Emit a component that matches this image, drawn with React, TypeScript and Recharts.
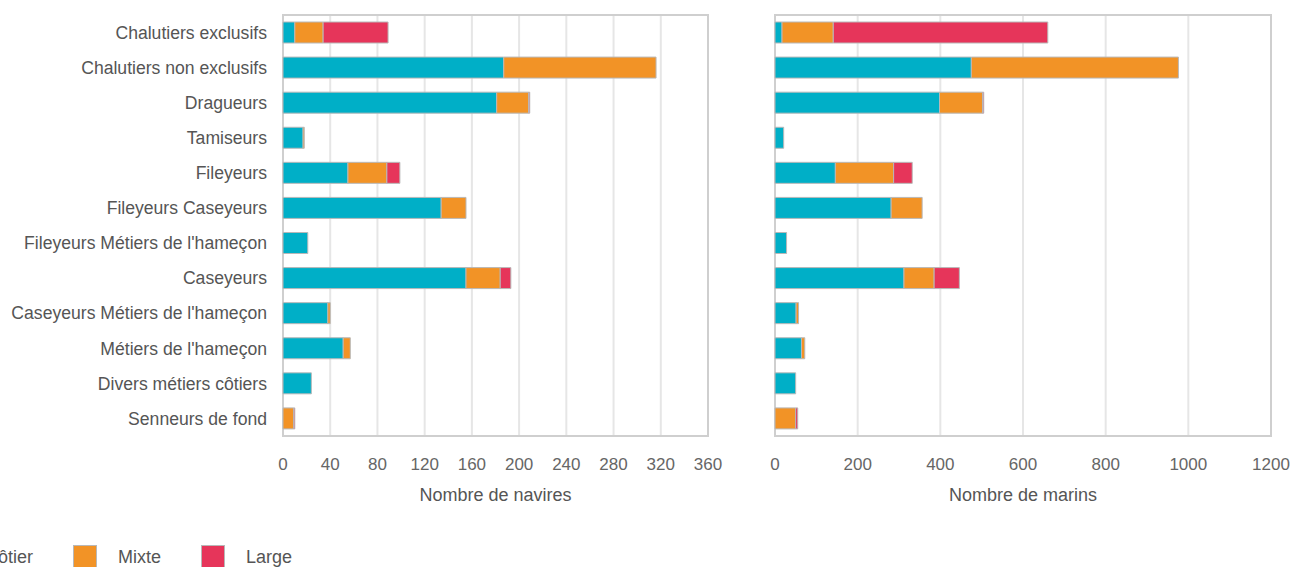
import {
  BarChart,
  Bar,
  XAxis,
  YAxis,
  CartesianGrid,
  ReferenceArea,
} from "recharts";

const categories = [
  "Chalutiers exclusifs",
  "Chalutiers non exclusifs",
  "Dragueurs",
  "Tamiseurs",
  "Fileyeurs",
  "Fileyeurs Caseyeurs",
  "Fileyeurs Métiers de l'hameçon",
  "Caseyeurs",
  "Caseyeurs Métiers de l'hameçon",
  "Métiers de l'hameçon",
  "Divers métiers côtiers",
  "Senneurs de fond",
];

// Nombre de navires
const naviresCotier = [10, 187, 181, 17, 55, 134, 21, 155, 38, 51, 24, 0];
const naviresMixte = [24, 129, 27, 1, 33, 21, 0, 29, 2, 6, 0, 9];
const naviresLarge = [55, 0, 1, 0, 11, 0, 0, 9, 0, 0, 0, 1];

// Nombre de marins
const marinsCotier = [17, 475, 398, 21, 146, 281, 28, 312, 51, 64, 50, 0];
const marinsMixte = [124, 501, 104, 0, 141, 75, 0, 73, 6, 8, 0, 50];
const marinsLarge = [519, 0, 3, 0, 45, 0, 0, 61, 0, 0, 0, 5];

const naviresTicks = [0, 40, 80, 120, 160, 200, 240, 280, 320, 360];
const marinsTicks = [0, 200, 400, 600, 800, 1000, 1200];

const series = [
  { key: "cotier", label: "Côtier", color: "#00afc7" },
  { key: "mixte", label: "Mixte", color: "#f29326" },
  { key: "large", label: "Large", color: "#e6355a" },
];

const naviresData = categories.map((name, i) => ({
  name,
  cotier: naviresCotier[i],
  mixte: naviresMixte[i],
  large: naviresLarge[i],
}));

const marinsData = categories.map((name, i) => ({
  name,
  cotier: marinsCotier[i],
  mixte: marinsMixte[i],
  large: marinsLarge[i],
}));

const FONT = "'Liberation Sans', Arial, sans-serif";
const tickStyle = { fontSize: 17, fill: "#666", fontFamily: FONT };

function Panel({
  data,
  ticks,
  title,
  showCategories,
  width,
  margin,
}: {
  data: typeof naviresData;
  ticks: number[];
  title: string;
  showCategories: boolean;
  width: number;
  margin: { top: number; right: number; left: number; bottom: number };
}) {
  const max = ticks[ticks.length - 1];
  return (
    <BarChart
      width={width}
      height={520}
      data={data}
      layout="vertical"
      margin={margin}
      barSize={21}
      style={{ overflow: "visible" }}
    >
      <CartesianGrid vertical horizontal={false} stroke="#e6e6e6" strokeWidth={2} />
      <XAxis
        type="number"
        domain={[0, max]}
        ticks={ticks}
        interval={0}
        axisLine={false}
        tickLine={false}
        tickSize={0}
        tickMargin={22}
        tick={tickStyle}
        height={70}
        label={{
          value: title,
          position: "insideBottom",
          offset: 5,
          fill: "#555",
          fontSize: 18,
          fontFamily: FONT,
        }}
      />
      <YAxis
        type="category"
        dataKey="name"
        hide={!showCategories}
        width={showCategories ? 283 : 0}
        axisLine={false}
        tickLine={false}
        tickSize={0}
        tickMargin={16}
        interval={0}
        tick={{ fontSize: 17.6, fill: "#555", fontFamily: FONT }}
      />
      {series.map((s) => (
        <Bar
          key={s.key}
          dataKey={s.key}
          name={s.label}
          stackId="a"
          fill={s.color}
          stroke="#b8b8b8"
          strokeWidth={1}
          isAnimationActive={false}
        />
      ))}
      <ReferenceArea
        x1={0}
        x2={max}
        fill="none"
        stroke="#cfcfcf"
        strokeWidth={2}
        fillOpacity={0}
      />
    </BarChart>
  );
}

export default function App() {
  return (
    <div
      style={{
        position: "absolute",
        left: 0,
        top: 0,
        width: 1292,
        height: 567,
        overflow: "hidden",
        background: "#fff",
        fontFamily: FONT,
      }}
    >
      <div style={{ position: "absolute", left: 0, top: 0 }}>
        <Panel
          data={naviresData}
          ticks={naviresTicks}
          title="Nombre de navires"
          showCategories
          width={740}
          margin={{ top: 15, right: 32, left: 0, bottom: 14 }}
        />
      </div>
      <div style={{ position: "absolute", left: 720, top: 0 }}>
        <Panel
          data={marinsData}
          ticks={marinsTicks}
          title="Nombre de marins"
          showCategories={false}
          width={572}
          margin={{ top: 15, right: 21, left: 55, bottom: 14 }}
        />
      </div>
      <div
        style={{
          position: "absolute",
          left: -60,
          top: 545,
          height: 24,
          display: "flex",
          alignItems: "center",
          fontSize: 18,
          color: "#555",
          whiteSpace: "nowrap",
        }}
      >
        {series.map((s) => (
          <div key={s.key} style={{ display: "flex", alignItems: "center", marginRight: 40 }}>
            <span
              style={{
                display: "inline-block",
                width: 24,
                height: 24,
                background: s.color,
                boxSizing: "border-box",
                border: "1px solid #b8b8b8",
                marginRight: 21,
              }}
            />
            <span>{s.label}</span>
          </div>
        ))}
      </div>
    </div>
  );
}
